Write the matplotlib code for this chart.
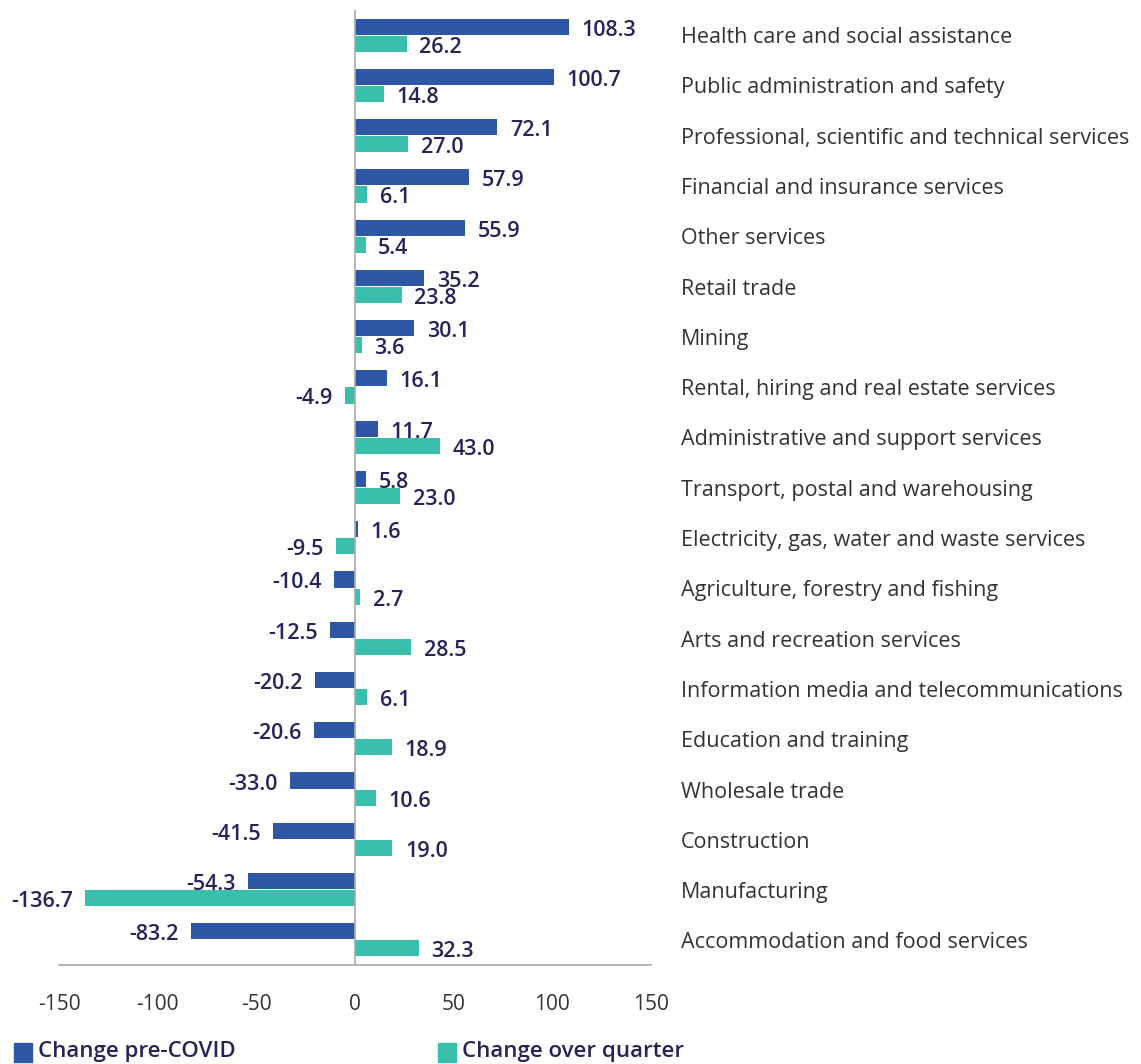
import matplotlib
matplotlib.use("Agg")
import matplotlib.pyplot as plt
import numpy as np
from matplotlib.patches import Rectangle

categories = [
    "Health care and social assistance",
    "Public administration and safety",
    "Professional, scientific and technical services",
    "Financial and insurance services",
    "Other services",
    "Retail trade",
    "Mining",
    "Rental, hiring and real estate services",
    "Administrative and support services",
    "Transport, postal and warehousing",
    "Electricity, gas, water and waste services",
    "Agriculture, forestry and fishing",
    "Arts and recreation services",
    "Information media and telecommunications",
    "Education and training",
    "Wholesale trade",
    "Construction",
    "Manufacturing",
    "Accommodation and food services",
]
pre_covid = [108.3, 100.7, 72.1, 57.9, 55.9, 35.2, 30.1, 16.1, 11.7, 5.8, 1.6,
             -10.4, -12.5, -20.2, -20.6, -33.0, -41.5, -54.3, -83.2]
over_quarter = [26.2, 14.8, 27.0, 6.1, 5.4, 23.8, 3.6, -4.9, 43.0, 23.0, -9.5,
                2.7, 28.5, 6.1, 18.9, 10.6, 19.0, -136.7, 32.3]
xticks = [-150, -100, -50, 0, 50, 100, 150]
series_names = ["Change pre-COVID", "Change over quarter"]

BLUE = "#2E58A6"
TEAL = "#3ABFAD"
NAVY = "#24245A"
GREY_TXT = "#333333"
FONT = "Open Sans"

plt.rcParams['font.family'] = [FONT, 'DejaVu Sans']

W, H = 1141, 1064
fig = plt.figure(figsize=(W / 100, H / 100), dpi=100)
ax = fig.add_axes([59 / W, 1 - 965 / H, (651 - 59) / W, (965 - 10) / H])

n = len(categories)
y = np.arange(n)
bh = 0.32
off = 0.17
ax.barh(y - off, pre_covid, height=bh, color=BLUE)
ax.barh(y + off, over_quarter, height=bh, color=TEAL)

for yi, v in zip(y - off, pre_covid):
    ax.annotate(f"{v:.1f}", (v, yi), xytext=(9 if v >= 0 else -9, -2.5),
                textcoords="offset points", va="center",
                ha="left" if v >= 0 else "right", fontsize=15.5,
                fontweight="semibold", color=NAVY)
for yi, v in zip(y + off, over_quarter):
    ax.annotate(f"{v:.1f}", (v, yi), xytext=(9 if v >= 0 else -9, -2.5),
                textcoords="offset points", va="center",
                ha="left" if v >= 0 else "right", fontsize=15.5,
                fontweight="semibold", color=NAVY)

ax.set_xlim(-150, 150)
ax.set_ylim(n - 0.5, -0.5)
ax.set_xticks(xticks)
ax.set_xticklabels([str(t) for t in xticks], fontsize=15, color=GREY_TXT)
ax.tick_params(axis="x", length=0, pad=21)
ax.set_yticks([])
for s in ["top", "right", "left"]:
    ax.spines[s].set_visible(False)
ax.spines["bottom"].set_color("#AAAAAA")
ax.spines["bottom"].set_linewidth(1.2)
ax.axvline(0, color="#AAAAAA", lw=1.2)

for yi, c in zip(y, categories):
    fig.text(681 / W, 1 - (35 + yi * 50.3) / H, c, fontsize=15.5,
             color=GREY_TXT, va="center_baseline", ha="left")

# legend
for (xpx, name, col) in [(14, series_names[0], BLUE), (438, series_names[1], TEAL)]:
    fig.patches.append(Rectangle((xpx / W, 2 / H), 18 / W, 19 / H, color=col,
                                 transform=fig.transFigure, figure=fig))
    fig.text((xpx + 24) / W, 1 - 1051 / H, name, fontsize=16,
             fontweight="semibold", color=NAVY, va="center", ha="left")

fig.savefig("out.png", dpi=100)
